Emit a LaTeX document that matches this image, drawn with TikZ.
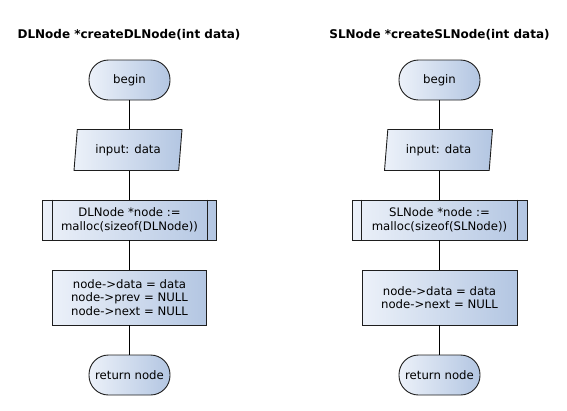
\documentclass[tikz,border=0pt]{standalone}
\usepackage{fontspec}
\setmainfont{DejaVu Sans}
\usetikzlibrary{shapes.geometric}
\definecolor{gl}{HTML}{ECF1F9}
\definecolor{gr}{HTML}{B3C6E2}
\definecolor{edge}{HTML}{1E1E1E}
\tikzset{
  every node/.style={font=\fontsize{11.7}{13.6}\selectfont, text=black, align=center, inner sep=0pt},
  fillbox/.style={draw=edge, line width=0.9pt, left color=gl, right color=gr},
  termbox/.style={fillbox, rectangle, rounded corners=19.5pt, minimum width=81pt, minimum height=40pt},
  iobox/.style={fillbox, trapezium, trapezium left angle=73.7, trapezium right angle=106.3, trapezium stretches body, minimum width=108pt, minimum height=41pt},
  subbox/.style={fillbox, rectangle, minimum height=40pt},
  procbox/.style={fillbox, rectangle, minimum height=55pt},
  link/.style={draw=black, line width=0.9pt},
  titletext/.style={font=\fontsize{12}{13.6}\selectfont\bfseries}
}
\begin{document}
\begin{tikzpicture}[x=1pt, y=-1pt]
\useasboundingbox (0,0) rectangle (567,410);
% left column
\node[titletext] (t1) at (129,35) {DLNode *createDLNode(int data)};
\node[termbox] (b1) at (129.5,80) {begin};
\node[iobox] (i1) at (128,150) {input: data};
\node[subbox, minimum width=174pt] (s1) at (129.5,220) {DLNode *node :=\\malloc(sizeof(DLNode))};
\node[procbox, minimum width=154pt] (p1) at (129.5,297.5) {node->data = data\\node->prev = NULL\\node->next = NULL};
\node[termbox] (r1) at (129.5,375) {return node};
\draw[edge, line width=0.9pt] ([xshift=10pt]s1.north west) -- ([xshift=10pt]s1.south west);
\draw[edge, line width=0.9pt] ([xshift=-10pt]s1.north east) -- ([xshift=-10pt]s1.south east);
\draw[link] (b1.south) -- (b1.south |- i1.north);
\draw[link] (s1.north |- i1.south) -- (s1.north);
\draw[link] (s1.south) -- (p1.north);
\draw[link] (p1.south) -- (r1.north);
% right column
\node[titletext] (t2) at (439.5,35) {SLNode *createSLNode(int data)};
\node[termbox] (b2) at (439.5,80) {begin};
\node[iobox] (i2) at (438.5,150) {input: data};
\node[subbox, minimum width=175pt] (s2) at (439.5,220) {SLNode *node :=\\malloc(sizeof(SLNode))};
\node[procbox, minimum width=155pt] (p2) at (439.5,297.5) {node->data = data\\node->next = NULL};
\node[termbox] (r2) at (439.5,375) {return node};
\draw[edge, line width=0.9pt] ([xshift=10pt]s2.north west) -- ([xshift=10pt]s2.south west);
\draw[edge, line width=0.9pt] ([xshift=-10pt]s2.north east) -- ([xshift=-10pt]s2.south east);
\draw[link] (b2.south) -- (b2.south |- i2.north);
\draw[link] (s2.north |- i2.south) -- (s2.north);
\draw[link] (s2.south) -- (p2.north);
\draw[link] (p2.south) -- (r2.north);
\end{tikzpicture}
\end{document}
